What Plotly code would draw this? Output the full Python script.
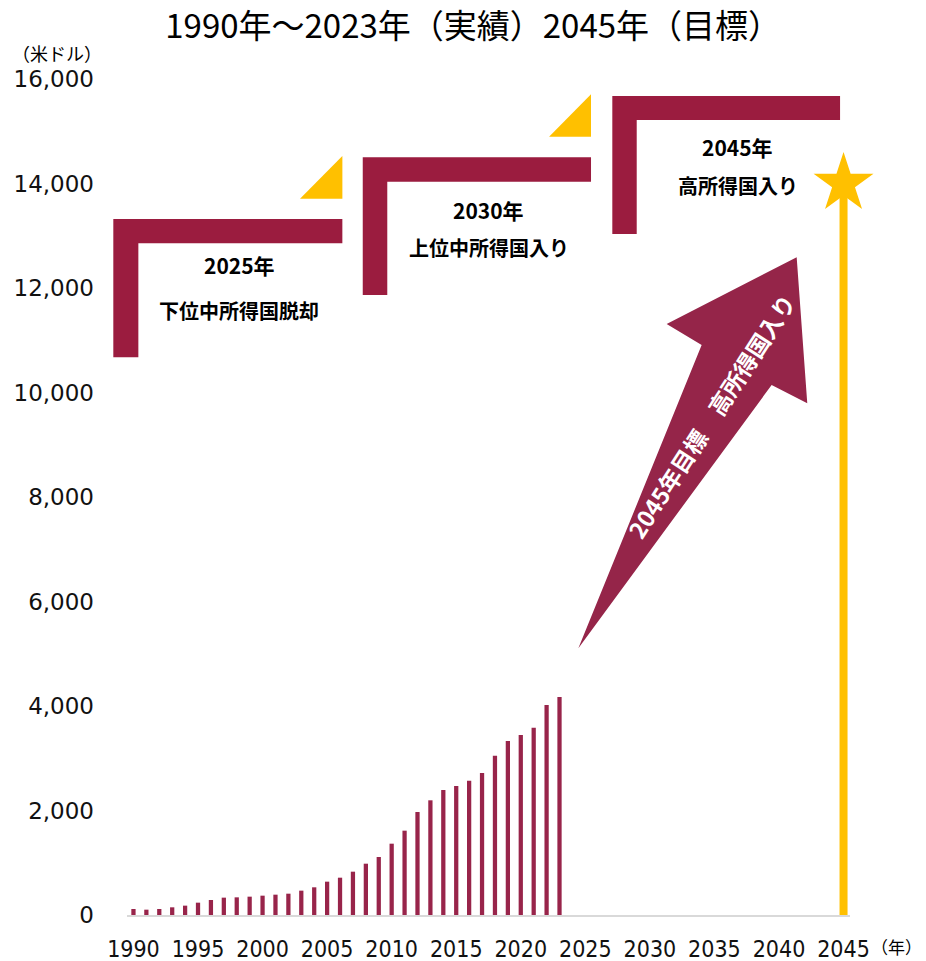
import plotly.graph_objects as go

# ---- data ----
years = [1990, 1991, 1992, 1993, 1994, 1995, 1996, 1997, 1998, 1999,
         2000, 2001, 2002, 2003, 2004, 2005, 2006, 2007, 2008, 2009,
         2010, 2011, 2012, 2013, 2014, 2015, 2016, 2017, 2018, 2019,
         2020, 2021, 2022, 2023]
gdp_per_capita = [115, 102, 115, 147, 179, 236, 287, 332, 338, 351,
                  370, 389, 408, 466, 530, 638, 714, 829, 982, 1110,
                  1365, 1614, 1971, 2195, 2392, 2469, 2571, 2718, 3049, 3330,
                  3445, 3585, 4019, 4172]
target_year = [2045]
target_value = [14000]

tick_years = [1990, 1995, 2000, 2005, 2010, 2015, 2020, 2025, 2030, 2035, 2040, 2045]
tick_year_labels = [str(y) for y in tick_years]
y_ticks = [0, 2000, 4000, 6000, 8000, 10000, 12000, 14000, 16000]

stage_years = ["2025年", "2030年", "2045年"]
stage_labels = ["下位中所得国脱却", "上位中所得国入り", "高所得国入り"]

title_text = "1990年～2023年（実績）2045年（目標）"
arrow_text = "2045年目標　高所得国入り"

# ---- styles ----
MAROON = "#9b1c3f"
BAR_MAROON = "#98244a"
ARROW_MAROON = "#952549"
YELLOW = "#ffc000"
JP = "Noto Sans CJK JP"

X0, X1 = 1989.5, 2045.5
Y1 = 16000


def xp(yr):
    return (yr - X0) / (X1 - X0)


def yp(v):
    return v / Y1


def poly(points):
    return "M " + " L ".join(f"{xp(a):.5f},{yp(b):.5f}" for a, b in points) + " Z"


fig = go.Figure()
fig.add_trace(go.Bar(x=years, y=gdp_per_capita, width=0.33,
                     marker=dict(color=BAR_MAROON, line=dict(width=0)),
                     hoverinfo="x+y"))
fig.add_trace(go.Bar(x=target_year, y=target_value, width=0.62,
                     marker=dict(color=YELLOW, line=dict(width=0))))
fig.add_trace(go.Scatter(x=target_year, y=target_value, mode="markers",
                         marker=dict(symbol="star", size=45, color=YELLOW,
                                     line=dict(width=0)),
                         cliponaxis=False))

shapes = []
# staircase "Γ" shapes (in axis units: year, USD)
stairs = [
    dict(xl=1988.44, xi=1990.38, xr=2006.18, yb=10674, yt=13321, yi=12856),
    dict(xl=2007.76, xi=2009.66, xr=2025.44, yb=11866, yt=14502, yi=14035),
    dict(xl=2027.09, xi=2028.98, xr=2044.73, yb=13034, yt=15675, yi=15215),
]
for s in stairs:
    pts = [(s["xl"], s["yb"]), (s["xl"], s["yt"]), (s["xr"], s["yt"]),
           (s["xr"], s["yi"]), (s["xi"], s["yi"]), (s["xi"], s["yb"])]
    shapes.append(dict(type="path", xref="paper", yref="paper", path=poly(pts),
                       fillcolor=MAROON, line=dict(width=0), layer="above"))

# yellow triangles
tris = [
    [(2002.90, 13709), (2006.18, 13709), (2006.18, 14527)],
    [(2022.19, 14896), (2025.44, 14896), (2025.44, 15707)],
]
for t in tris:
    shapes.append(dict(type="path", xref="paper", yref="paper", path=poly(t),
                       fillcolor=YELLOW, line=dict(width=0), layer="above"))

# big arrow
arrow_pts = [(2024.46, 5104), (2034.01, 10909), (2031.30, 11311),
             (2041.37, 12588), (2042.19, 9793), (2039.43, 10144)]
shapes.append(dict(type="path", xref="paper", yref="paper", path=poly(arrow_pts),
                   fillcolor=ARROW_MAROON, line=dict(width=0), layer="above"))

annotations = []
stage_pos = [(1998.2, 12440, 11579), (2017.5, 13493, 12766), (2036.8, 14699, 13971)]
for (x, y1, y2), t1, t2 in zip(stage_pos, stage_years, stage_labels):
    annotations.append(dict(x=x, y=y1, xref="x", yref="y", text=f"<b>{t1}</b>",
                            showarrow=False, xanchor="center", yanchor="middle",
                            font=dict(family=JP, size=21, color="#000")))
    annotations.append(dict(x=x, y=y2, xref="x", yref="y", text=f"<b>{t2}</b>",
                            showarrow=False, xanchor="center", yanchor="middle",
                            font=dict(family=JP, size=20, color="#000")))

annotations.append(dict(x=2034.73, y=9550, xref="x", yref="y", text=f"<b>{arrow_text}</b>",
                        textangle=-57, showarrow=False, xanchor="center", yanchor="middle",
                        font=dict(family=JP, size=23, color="#ffffff")))
annotations.append(dict(x=-0.0968, y=1.0315, xref="paper", yref="paper",
                        text="（米ドル）", showarrow=False, xanchor="center", yanchor="middle",
                        font=dict(family=JP, size=18, color="#000")))
annotations.append(dict(x=1.0637, y=-0.0379, xref="paper", yref="paper",
                        text="（年）", showarrow=False, xanchor="center", yanchor="middle",
                        font=dict(family=JP, size=17, color="#000")))

fig.update_layout(
    width=926, height=961,
    margin=dict(l=127, r=76, t=79, b=46, pad=0, autoexpand=False),
    plot_bgcolor="white", paper_bgcolor="white",
    barmode="overlay", showlegend=False,
    title=dict(text=title_text, x=0.511, xref="container", y=1 - 26 / 961,
               yref="container", xanchor="center", yanchor="middle",
               font=dict(family=JP, size=33, color="#000")),
    shapes=shapes, annotations=annotations,
)
fig.update_xaxes(range=[X0, X1], tickmode="array", tickvals=tick_years,
                 ticktext=tick_year_labels, showgrid=False, zeroline=False,
                 showline=True, linecolor="#d9d9d9", linewidth=2, ticks="",
                 ticklabelstandoff=12, automargin=False,
                 tickfont=dict(family="DejaVu Sans Condensed", size=23, color="#111"))
fig.update_yaxes(range=[0, Y1], tickmode="array", tickvals=y_ticks,
                 tickformat=",d", showgrid=False, zeroline=False, showline=False,
                 ticks="", ticklabelstandoff=32, automargin=False,
                 tickfont=dict(family="DejaVu Sans", size=23, color="#111"))

fig.write_html("out.html", config={"displayModeBar": False},
               post_script="document.body.style.margin='0';")
